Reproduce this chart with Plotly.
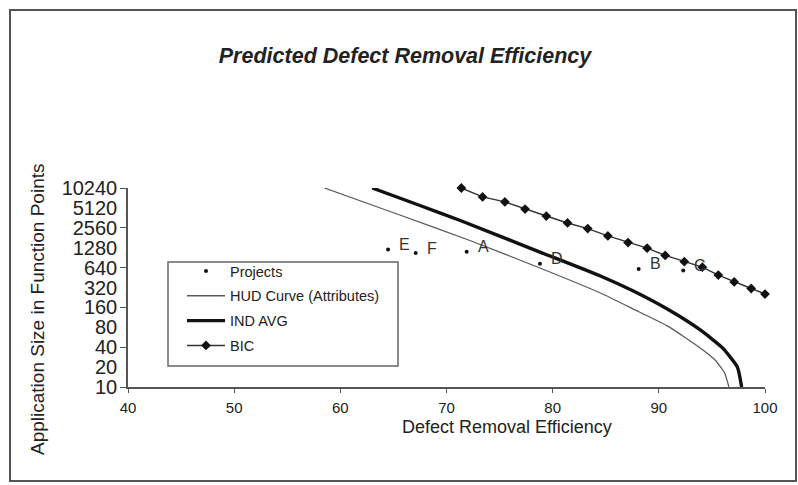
import plotly.graph_objects as go
import math

# ---------------- data ----------------
title_text = "Predicted Defect Removal Efficiency"
x_title = "Defect Removal Efficiency"
y_title = "Application Size in Function Points"

x_ticks = [40, 50, 60, 70, 80, 90, 100]
y_ticks = [10, 20, 40, 80, 160, 320, 640, 1280, 2560, 5120, 10240]
y_tick_marks = [10, 40, 160, 640, 2560, 10240]

proj_names = ["E", "F", "A", "D", "B", "C"]
proj_x = [64.5, 67.1, 71.9, 78.8, 88.1, 92.3]
proj_y = [1200, 1060, 1110, 730, 610, 580]

hud_x = [58.5, 65.6, 72.2, 78.8, 84.5, 87.6, 90.8, 93.9, 95.3, 96.2, 96.6]
hud_y = [10240, 4000, 1645, 631, 264, 151, 84, 39, 25.6, 16.3, 10]

ind_x = [63.0, 67.5, 71.3, 78.8, 84.5, 87.6, 90.8, 93.9, 96.0, 97.4, 97.8]
ind_y = [10240, 5570, 3300, 1100, 478, 283, 151, 73, 39, 20, 10]

bic_x = [71.4, 73.4, 75.5, 77.4, 79.4, 81.4, 83.3, 85.2, 87.1, 88.9, 90.6,
         92.4, 94.1, 95.6, 97.1, 98.7, 100.0]
bic_y = [10240, 7500, 6310, 4910, 3860, 3030, 2490, 1930, 1530, 1260, 977,
         788, 649, 493, 388, 309, 255]

FONT = "Liberation Sans, Arial, sans-serif"
INK = "#222222"

fig = go.Figure()

fig.add_trace(go.Scatter(
    x=proj_x, y=proj_y, mode="markers", name="Projects",
    legendgroup="g1",
    marker=dict(symbol="circle", size=4, color="#111111"),
    cliponaxis=False,
))
fig.add_trace(go.Scatter(
    x=hud_x, y=hud_y, mode="lines", name="HUD Curve (Attributes)",
    legendgroup="g2",
    line=dict(color="#5a5a5a", width=1.3, shape="spline", smoothing=0.5),
    cliponaxis=False,
))
fig.add_trace(go.Scatter(
    x=ind_x, y=ind_y, mode="lines", name="IND AVG",
    legendgroup="g3",
    line=dict(color="#111111", width=3.4, shape="spline", smoothing=0.5),
    cliponaxis=False,
))
fig.add_trace(go.Scatter(
    x=bic_x, y=bic_y, mode="lines+markers", name="BIC",
    legendgroup="g4",
    line=dict(color="#333333", width=1.4),
    marker=dict(symbol="diamond", size=7.5, color="#111111"),
    cliponaxis=False,
))

annotations = []
for nm, px, py in zip(proj_names, proj_x, proj_y):
    annotations.append(dict(
        x=px, y=math.log10(py), xref="x", yref="y", text=nm,
        showarrow=False, xanchor="left", yanchor="middle",
        xshift=9, yshift=5,
        font=dict(family=FONT, size=16, color="#333333"),
    ))

# axis titles placed as in the reference
annotations.append(dict(
    x=(507 - 128) / 637, y=(387 - 427) / 199, xref="paper", yref="paper",
    text=x_title, showarrow=False, xanchor="center", yanchor="middle",
    font=dict(family=FONT, size=18, color=INK),
))
annotations.append(dict(
    x=(37 - 128) / 637, y=(387 - 309) / 199, xref="paper", yref="paper",
    text=y_title, showarrow=False, xanchor="center", yanchor="middle",
    textangle=-90,
    font=dict(family=FONT, size=19, color=INK),
))

shapes = [
    # page frame
    dict(type="rect", xref="paper", yref="paper",
         x0=(10 - 128) / 637, x1=(796 - 128) / 637,
         y0=(387 - 481) / 199, y1=(387 - 10) / 199,
         line=dict(color="#555555", width=2), fillcolor="rgba(0,0,0,0)",
         layer="below"),
    # legend box
    dict(type="rect", xref="paper", yref="paper",
         x0=(168 - 128) / 637, x1=(398 - 128) / 637,
         y0=(387 - 366) / 199, y1=(387 - 262) / 199,
         line=dict(color="#666666", width=1.5), fillcolor="white",
         layer="below"),
]

fig.update_layout(
    width=798, height=485, autosize=False,
    margin=dict(l=128, r=33, t=188, b=98),
    paper_bgcolor="white", plot_bgcolor="rgba(0,0,0,0)",
    font=dict(family=FONT, color=INK),
    title=dict(
        text="<b><i>" + title_text + "</i></b>",
        xref="container", yref="container",
        x=405 / 798, y=1 - 55 / 485, xanchor="center", yanchor="middle",
        font=dict(family=FONT, size=21.5, color=INK),
    ),
    xaxis=dict(
        range=[40, 100], tickvals=x_ticks, ticktext=[str(v) for v in x_ticks],
        showgrid=False, zeroline=False, showline=True,
        linecolor="#555555", linewidth=1.5,
        ticks="outside", ticklen=4, tickcolor="#555555",
        ticklabelstandoff=2,
        tickfont=dict(family=FONT, size=15, color=INK),
    ),
    yaxis=dict(
        type="log", range=[1, math.log10(10240)],
        tickvals=y_ticks, ticktext=[str(v) for v in y_ticks],
        showgrid=False, zeroline=False, showline=True,
        linecolor="#555555", linewidth=1.5,
        ticks="", ticklabelstandoff=5,
        minor=dict(tickvals=y_tick_marks, ticks="outside", ticklen=6,
                   tickcolor="#555555", showgrid=False),
        tickfont=dict(family=FONT, size=20, color=INK),
    ),
    legend=dict(
        x=(182 - 128) / 637, y=(387 - 255) / 199, xanchor="left", yanchor="top",
        bgcolor="rgba(0,0,0,0)", borderwidth=0,
        traceorder="grouped", tracegroupgap=3, itemwidth=38,
        font=dict(family=FONT, size=14.5, color=INK),
    ),
    annotations=annotations,
    shapes=shapes,
)

fig.write_html("out.html", config={"displayModeBar": False},
               post_script="document.body.style.margin='0px';")
